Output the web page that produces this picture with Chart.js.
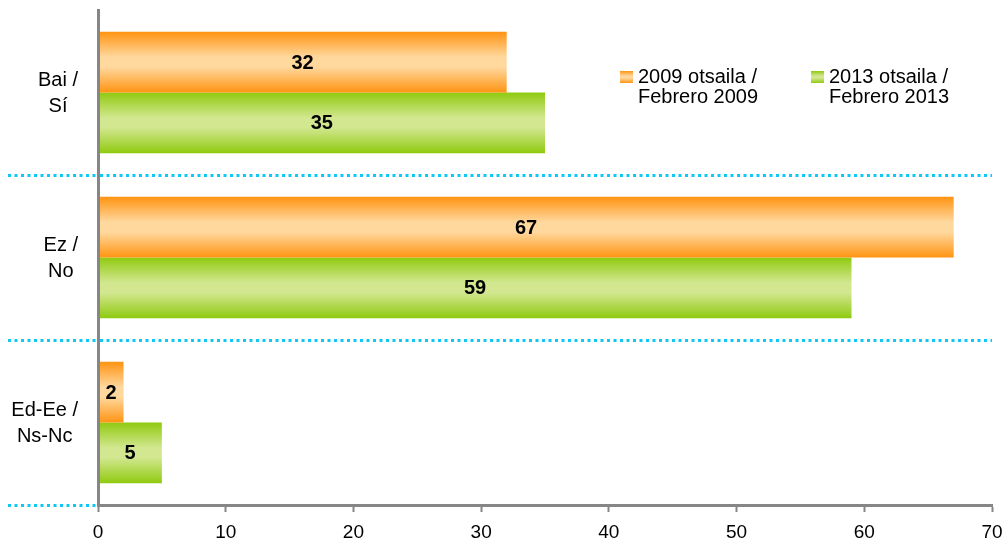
<!DOCTYPE html>
<html><head><meta charset="utf-8">
<script src="https://cdn.jsdelivr.net/npm/chart.js@4/dist/chart.umd.min.js"></script>
<style>html,body{margin:0;padding:0;background:#fff}#wrap{width:1004px;height:540px}</style>
</head><body><div id="wrap"><canvas id="c" width="1004" height="540"></canvas></div>
<script>
const categories = [["Bai /", "Sí"], ["Ez /", "No"], ["Ed-Ee /", "Ns-Nc"]];
const seriesLabels = [["2009 otsaila /", "Febrero 2009"], ["2013 otsaila /", "Febrero 2013"]];
const values2009 = [32, 67, 2];
const values2013 = [35, 59, 5];
const xMin = 0, xMax = 70, xStep = 10;

const FONT = "'Liberation Sans', Arial, sans-serif";
Chart.defaults.font.family = FONT;
Chart.defaults.color = '#000';

const palettes = [
  { edge: '#FF9412', mid: '#FFD89E' },
  { edge: '#90CA10', mid: '#D2E790' }
];
function grad(ctx, y0, y1, p) {
  const g = ctx.createLinearGradient(0, y0, 0, y1);
  g.addColorStop(0, p.edge);
  g.addColorStop(0.42, p.mid);
  g.addColorStop(0.58, p.mid);
  g.addColorStop(1, p.edge);
  return g;
}

const gradientPlugin = {
  id: 'gradBars',
  beforeDatasetDraw(chart, args) {
    const meta = args.meta;
    const p = palettes[args.index];
    meta.data.forEach(el => {
      const { y, height } = el.getProps(['y', 'height'], true);
      el.options = Object.assign({}, el.options, { backgroundColor: grad(chart.ctx, y - height / 2, y + height / 2, p) });
    });
  }
};

const valueLabels = {
  id: 'valueLabels',
  afterDatasetsDraw(chart) {
    const ctx = chart.ctx;
    ctx.save();
    ctx.font = "bold 20px " + FONT;
    ctx.fillStyle = '#000';
    ctx.textAlign = 'center';
    ctx.textBaseline = 'middle';
    chart.data.datasets.forEach((ds, di) => {
      chart.getDatasetMeta(di).data.forEach((el, i) => {
        const { x, y, base } = el.getProps(['x', 'y', 'base'], true);
        ctx.fillText(String(ds.data[i]), (x + base) / 2, y + 1);
      });
    });
    ctx.restore();
  }
};

const yLabels = {
  id: 'yLabels',
  afterDraw(chart) {
    const ctx = chart.ctx;
    const ys = chart.scales.y;
    ctx.save();
    ctx.font = "20px " + FONT;
    ctx.fillStyle = '#000';
    ctx.textAlign = 'center';
    ctx.textBaseline = 'middle';
    const right = chart.chartArea.left - 20;
    const lh = 26;
    categories.forEach((lines, i) => {
      const cy = ys.getPixelForValue(i);
      const w = Math.max(...lines.map(l => ctx.measureText(l).width));
      const cx = right - w / 2;
      lines.forEach((l, k) => {
        ctx.fillText(l, cx, cy + 1 + (k - (lines.length - 1) / 2) * lh);
      });
    });
    ctx.restore();
  }
};

const legendPlugin = {
  id: 'customLegend',
  afterDraw(chart) {
    const ctx = chart.ctx;
    const items = [{ x: 620, y: 71 }, { x: 811, y: 71 }];
    ctx.save();
    ctx.font = "20px " + FONT;
    ctx.textBaseline = 'alphabetic';
    ctx.textAlign = 'left';
    seriesLabels.forEach((lines, i) => {
      const it = items[i];
      ctx.fillStyle = grad(ctx, it.y, it.y + 12, palettes[i]);
      ctx.fillRect(it.x, it.y, 13, 12);
      ctx.fillStyle = '#000';
      lines.forEach((l, k) => ctx.fillText(l, it.x + 18, it.y + 12 + k * 20));
    });
    ctx.restore();
  }
};

new Chart(document.getElementById('c'), {
  type: 'bar',
  data: {
    labels: categories,
    datasets: [
      { label: seriesLabels[0].join(' '), data: values2009, backgroundColor: palettes[0].edge, borderWidth: 0, categoryPercentage: 0.735, barPercentage: 1 },
      { label: seriesLabels[1].join(' '), data: values2013, backgroundColor: palettes[1].edge, borderWidth: 0, categoryPercentage: 0.735, barPercentage: 1 }
    ]
  },
  options: {
    indexAxis: 'y',
    responsive: false,
    devicePixelRatio: 1,
    animation: false,
    layout: { padding: { top: 10, right: 0, left: 0, bottom: 0 } },
    plugins: { legend: { display: false }, tooltip: { enabled: false } },
    scales: {
      x: {
        type: 'linear', position: 'bottom', min: xMin, max: xMax,
        afterFit(s) { s.height = 35; s.paddingRight = 12; },
        ticks: { stepSize: xStep, font: { size: 19 }, color: '#000', padding: 9 },
        grid: { drawOnChartArea: false, drawTicks: true, tickLength: 7, tickColor: '#868686', tickWidth: 2 },
        border: { display: true, color: '#868686', width: 3, z: 1 }
      },
      y: {
        type: 'category', offset: true,
        ticks: { display: false },
        afterFit(s) { s.width = 98; },
        grid: {
          offset: true, drawOnChartArea: true, drawTicks: true, tickLength: 90,
          lineWidth: 3, tickWidth: 3,
          color: c => c.index === 0 ? 'rgba(0,0,0,0)' : '#0FC8F5',
          tickColor: c => c.index === 0 ? 'rgba(0,0,0,0)' : '#0FC8F5',
          tickBorderDash: [3, 3.5]
        },
        border: { display: true, color: '#868686', width: 3, dash: [3, 3.5], z: 1 }
      }
    }
  },
  plugins: [gradientPlugin, valueLabels, yLabels, legendPlugin]
});
</script>
</body></html>
